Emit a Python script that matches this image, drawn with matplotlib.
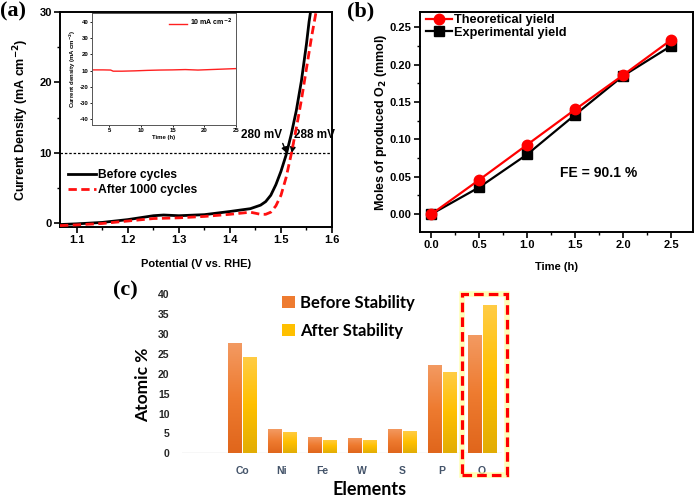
import numpy as np
import matplotlib
matplotlib.use("Agg")
import matplotlib.pyplot as plt
from matplotlib.ticker import AutoMinorLocator, MultipleLocator, FormatStrFormatter
from matplotlib.patches import Rectangle
from matplotlib.colors import LinearSegmentedColormap

plt.rcParams['font.family'] = ['Liberation Sans', 'DejaVu Sans']
plt.rcParams['font.weight'] = 'bold'
plt.rcParams['axes.labelweight'] = 'bold'

# ---------------- data: panel (a) LSV ----------------
pot_before = [1.067, 1.10, 1.15, 1.20, 1.25, 1.27, 1.30, 1.35, 1.40, 1.44, 1.46, 1.47, 1.48,
              1.49, 1.50, 1.51, 1.52, 1.53, 1.54, 1.55, 1.555, 1.56]
cur_before = [-0.15, -0.05, 0.15, 0.55, 1.1, 1.2, 1.1, 1.25, 1.7, 2.1, 2.6, 3.1, 4.0,
              5.5, 7.4, 9.7, 12.6, 16.0, 20.2, 25.5, 28.6, 31.0]
pot_after = [1.067, 1.10, 1.15, 1.20, 1.25, 1.30, 1.35, 1.40, 1.44, 1.46, 1.47, 1.48, 1.49,
             1.50, 1.51, 1.52, 1.53, 1.54, 1.55, 1.56, 1.57]
cur_after = [-0.3, -0.2, 0.0, 0.35, 0.7, 0.8, 1.0, 1.3, 1.6, 1.3, 1.3, 1.6, 2.5,
             4.0, 6.5, 9.8, 13.5, 17.5, 22.0, 26.5, 30.5]
ref_current = 10
label_280 = '280 mV'
label_288 = '288 mV'

# inset: chronopotentiometry
inset_time = [2.25, 4.0, 5.2, 5.6, 7.0, 9.0, 11.0, 13.0, 15.0, 17.0, 19.0, 21.0, 23.0, 25.0]
inset_cur = [10.4, 10.4, 10.3, 9.6, 9.6, 9.8, 10.1, 10.3, 10.4, 10.6, 10.3, 10.6, 10.9, 11.2]
inset_yticks = [40, 30, 20, 10, 0, -10, -20]
inset_yticklabels = ['40', '30', '20', '10', '-20', '-30', '-40']
inset_xticks = [5, 10, 15, 20, 25]

# ---------------- data: panel (b) ----------------
time_h = [0.0, 0.5, 1.0, 1.5, 2.0, 2.5]
theoretical = [0.0, 0.046, 0.093, 0.140, 0.186, 0.233]
experimental = [0.0, 0.036, 0.080, 0.133, 0.185, 0.225]
fe_text = 'FE = 90.1 %'

# ---------------- data: panel (c) ----------------
elements = ['Co', 'Ni', 'Fe', 'W', 'S', 'P', 'O']
before_stab = [27.8, 6.0, 4.0, 3.8, 6.2, 22.2, 29.7]
after_stab = [24.2, 5.3, 3.4, 3.4, 5.5, 20.5, 37.3]

fig = plt.figure(figsize=(7, 5), dpi=100)

# ================= panel (a) =================
axA = fig.add_axes([0.0857, 0.546, 0.3886, 0.43])
axA.plot(pot_before, cur_before, color='black', lw=2.0, label='Before cycles', zorder=3)
axA.plot(pot_after, cur_after, color='#FF1010', lw=2.0, dashes=(3, 1.6), label='After 1000 cycles', zorder=4)
axA.axhline(ref_current, color='black', lw=0.9, dashes=(2, 1.5), zorder=2)
axA.set_xlim(1.067, 1.6)
axA.set_ylim(-0.5, 30)
axA.xaxis.set_major_locator(MultipleLocator(0.1))
axA.xaxis.set_major_formatter(FormatStrFormatter('%.1f'))
axA.xaxis.set_minor_locator(AutoMinorLocator(2))
axA.yaxis.set_major_locator(MultipleLocator(10))
axA.yaxis.set_minor_locator(AutoMinorLocator(2))
axA.tick_params(which='major', direction='out', length=4, width=1.2, labelsize=8, pad=2)
axA.tick_params(which='minor', direction='out', length=2.5, width=1.0)
for s in axA.spines.values():
    s.set_linewidth(1.4)
axA.set_xlabel('Potential (V vs. RHE)', fontsize=8)
axA.xaxis.set_label_coords(0.5, -0.15)
axA.set_ylabel('Current Density (mA cm$^{\\mathbf{-2}}$)', fontsize=9)
axA.yaxis.set_label_coords(-0.105, 0.5)
axA.legend(loc='upper left', bbox_to_anchor=(0.0, 0.31), frameon=False, fontsize=8.7,
           handlelength=2.3, handletextpad=0.15, labelspacing=0.25, borderaxespad=0.3)
axA.annotate(label_280, xy=(1.511, ref_current), xytext=(1.461, 12.6), fontsize=8.5,
             ha='center', va='center',
             arrowprops=dict(arrowstyle='-|>', color='black', lw=1.0, relpos=(1.0, 0.0),
                             shrinkA=0, shrinkB=0, mutation_scale=8))
axA.annotate(label_288, xy=(1.521, ref_current), xytext=(1.566, 12.6), fontsize=8.5,
             ha='center', va='center',
             arrowprops=dict(arrowstyle='-|>', color='black', lw=1.0, relpos=(0.0, 0.0),
                             shrinkA=0, shrinkB=0, mutation_scale=8))

# inset
axIn = fig.add_axes([0.1314, 0.75, 0.2057, 0.224])
axIn.plot(inset_time, inset_cur, color='#FF2020', lw=1.0, label='10 mA cm$^{\\mathbf{-2}}$')
axIn.set_xlim(2.25, 25)
axIn.set_ylim(-23.7, 45.6)
axIn.set_yticks(inset_yticks)
axIn.set_yticklabels(inset_yticklabels)
axIn.set_xticks(inset_xticks)
axIn.tick_params(direction='out', length=1.5, width=0.6, labelsize=4.3, pad=1)
for s in axIn.spines.values():
    s.set_linewidth(0.7)
    s.set_color('#555555')
axIn.set_xlabel('Time (h)', fontsize=4.3, labelpad=1)
axIn.set_ylabel('Current density (mA cm$^{\\mathbf{-2}}$)', fontsize=4.3, labelpad=1)
axIn.legend(loc='upper right', frameon=False, fontsize=5, handlelength=2.5, handletextpad=0.4,
            borderaxespad=0.2)

# ================= panel (b) =================
axB = fig.add_axes([0.6, 0.536, 0.39, 0.44])
axB.plot(time_h, theoretical, color='#FF0000', lw=1.6, marker='o', ms=7.5, label='Theoretical yield', zorder=4)
axB.plot(time_h, experimental, color='black', lw=1.6, marker='s', ms=6.5, label='Experimental yield', zorder=3)
axB.set_xlim(-0.12, 2.73)
axB.set_ylim(-0.024, 0.2705)
axB.xaxis.set_major_locator(MultipleLocator(0.5))
axB.xaxis.set_major_formatter(FormatStrFormatter('%.1f'))
axB.xaxis.set_minor_locator(AutoMinorLocator(2))
axB.yaxis.set_major_locator(MultipleLocator(0.05))
axB.yaxis.set_major_formatter(FormatStrFormatter('%.2f'))
axB.yaxis.set_minor_locator(AutoMinorLocator(2))
axB.tick_params(which='major', direction='out', length=4, width=1.2, labelsize=8, pad=2)
axB.tick_params(which='minor', direction='out', length=2.5, width=1.0)
for s in axB.spines.values():
    s.set_linewidth(1.4)
axB.set_xlabel('Time (h)', fontsize=8)
axB.xaxis.set_label_coords(0.5, -0.135)
axB.set_ylabel('Moles of produced O$_\\mathbf{2}$ (mmol)', fontsize=9)
axB.yaxis.set_label_coords(-0.115, 0.5)
axB.legend(loc='upper left', bbox_to_anchor=(0.0, 1.02), frameon=False, fontsize=9.2,
           handlelength=2.0, handletextpad=0.15, labelspacing=0.05, borderaxespad=0.1)
axB.text(1.74, 0.055, fe_text, fontsize=10, ha='center', va='center')

# ================= panel (c) =================
axC = fig.add_axes([0.26, 0.0934, 0.457, 0.318])
pos = np.arange(len(elements)) + 1
bw = 0.33
off = 0.19
bars_b = axC.bar(pos - off, before_stab, width=bw, color='none', edgecolor='none', label='Before Stability')
bars_a = axC.bar(pos + off, after_stab, width=bw, color='none', edgecolor='none', label='After Stability')
cm_b = LinearSegmentedColormap.from_list('b', ['#E0661C', '#EE7B30', '#F39A62'])
cm_a = LinearSegmentedColormap.from_list('a', ['#E2AD05', '#FFC000', '#FFCC45'])
grad = np.linspace(0, 1, 64).reshape(-1, 1)
for bars, cm in ((bars_b, cm_b), (bars_a, cm_a)):
    for p in bars.patches:
        x0 = p.get_x(); w = p.get_width(); h = p.get_height()
        im = axC.imshow(grad, extent=(x0, x0 + w, 0, h), origin='lower', aspect='auto', cmap=cm, zorder=2)
        im.set_clip_path(p)
axC.set_xlim(-0.5, 7.5)
axC.set_ylim(0, 40)
axC.axhline(0, color='#D9D9D9', lw=1.0, zorder=1)
for s in axC.spines.values():
    s.set_visible(False)
axC.set_xticks(pos)
axC.set_xticklabels(elements, color='#44546A', fontsize=7.5)
axC.set_yticks(np.arange(0, 41, 5))
axC.tick_params(axis='both', length=0, labelsize=7.5)
axC.tick_params(axis='x', pad=9)
axC.tick_params(axis='y', pad=9, labelcolor='#262626')
axC.set_ylabel('Atomic %', fontsize=12.5, family=['Lato', 'DejaVu Sans'])
axC.yaxis.set_label_coords(-0.097, 0.43)
axC.set_xlabel('Elements', fontsize=13, family=['Lato', 'DejaVu Sans'])
axC.xaxis.set_label_coords(0.5875, -0.175)
h1 = Rectangle((0, 0), 1, 1, facecolor='#EE7B30')
h2 = Rectangle((0, 0), 1, 1, facecolor='#FFC000')
axC.legend([h1, h2], ['Before Stability', 'After Stability'], loc='upper left',
           bbox_to_anchor=(0.266, 1.09), frameon=False,
           prop={'family': ['Lato', 'DejaVu Sans'], 'weight': 'bold', 'size': 12},
           handlelength=0.75, handleheight=0.75, handletextpad=0.35, labelspacing=0.7)
glow = Rectangle((6.49, -5.5), 1.13, 45.5, fill=False, edgecolor='#FFFF99', lw=4, alpha=0.7,
                 clip_on=False, zorder=5)
box = Rectangle((6.49, -5.5), 1.13, 45.5, fill=False, edgecolor='#FF0000', lw=2.3,
                linestyle=(0, (3, 1.6)), clip_on=False, zorder=6)
axC.add_patch(glow)
axC.add_patch(box)

# panel labels
serif = ['Liberation Serif', 'DejaVu Serif']
fig.text(0.0, 0.978, '(a)', fontsize=16, family=serif, weight='bold', va='center', ha='left')
fig.text(0.496, 0.978, '(b)', fontsize=16, family=serif, weight='bold', va='center', ha='left')
fig.text(0.161, 0.42, '(c)', fontsize=16, family=serif, weight='bold', va='center', ha='left')

fig.savefig('out.png', dpi=100)
